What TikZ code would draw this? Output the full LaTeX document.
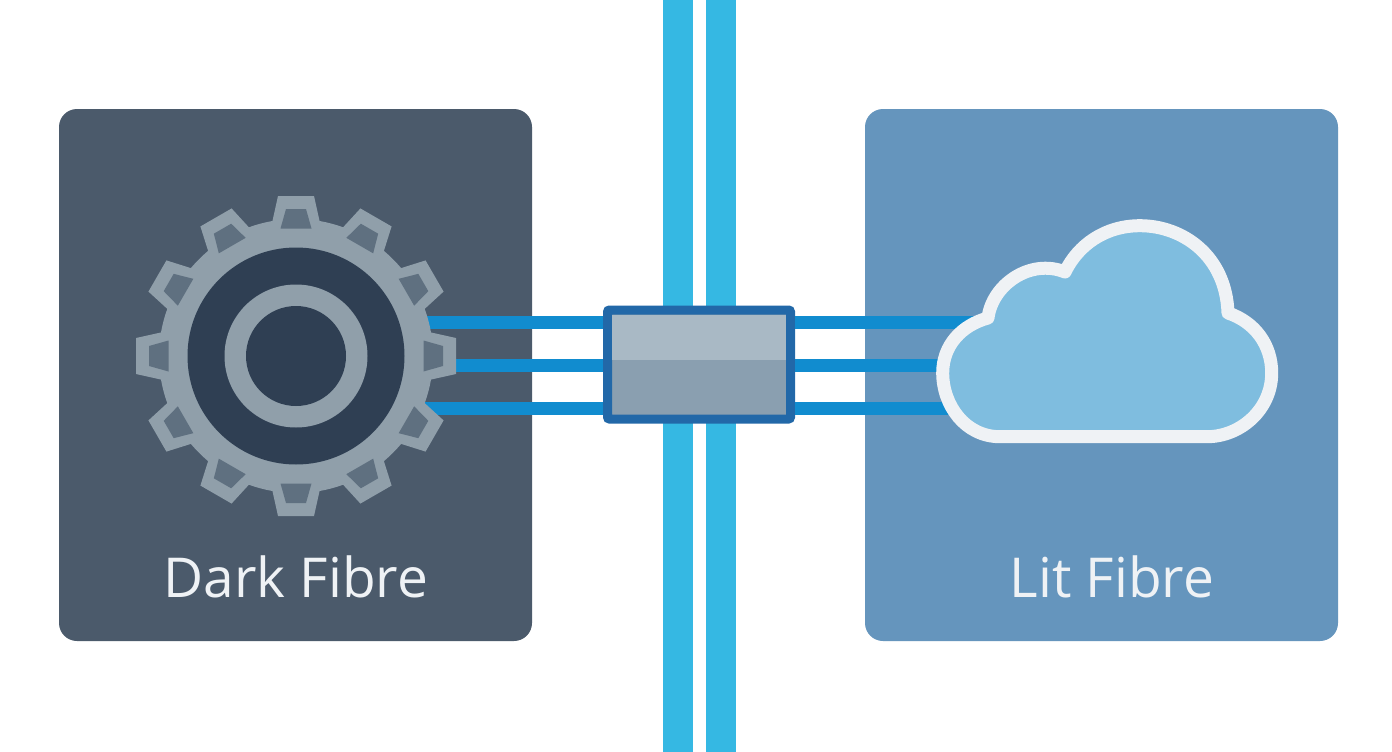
\documentclass[tikz,border=0pt]{standalone}
\usepackage{fontspec}
\setmainfont{Open Sans}
\usetikzlibrary{positioning}
\definecolor{darkpanel}{HTML}{4B5A6B}
\definecolor{litpanel}{HTML}{6595BD}
\definecolor{trunkblue}{HTML}{35B8E3}
\definecolor{fibreblue}{HTML}{118CCF}
\definecolor{spliceblue}{HTML}{2268A8}
\definecolor{spliceup}{HTML}{A9B9C5}
\definecolor{splicelow}{HTML}{8A9FB0}
\definecolor{gearmetal}{HTML}{909FAA}
\definecolor{gearhole}{HTML}{5F7080}
\definecolor{gearcore}{HTML}{2F3F53}
\definecolor{cloudfill}{HTML}{7FBDDF}
\definecolor{softwhite}{HTML}{EFF2F5}
\tikzset{x=1pt, y=-1pt,
    panel/.style={rectangle, rounded corners=18pt, minimum width=473pt, minimum height=532pt, inner sep=0pt},
    panellabel/.style={text=softwhite, font=\fontsize{55}{55}\selectfont},
    trunk/.style={trunkblue, line width=30pt},
    fibre/.style={fibreblue, line width=13pt},
    ring/.style={circle, inner sep=0pt}
}

\begin{document}
\begin{tikzpicture}
        \useasboundingbox (0,0) rectangle (1392,752);
        \fill[white] (0,0) rectangle (1392,752);
        \node[panel, fill=darkpanel] (dark) at (295.5,375) {};
        \node[panel, fill=litpanel] (lit) at (1101.5,375) {};
        % trunk ends
        \coordinate (trunkAtop) at (678,0);
        \coordinate (trunkAbot) at (678,752);
        \coordinate (trunkBtop) at (721,0);
        \coordinate (trunkBbot) at (721,752);
        \draw[trunk] (trunkAtop) -- (trunkAbot);
        \draw[trunk] (trunkBtop) -- (trunkBbot);
        % splice box
        \node[rectangle, minimum width=183pt, minimum height=109pt, inner sep=0pt, fill=splicelow, draw=spliceblue, line width=9pt, rounded corners=2pt] (splice) at (699,364.5) {};
        \node[rectangle, minimum width=174pt, minimum height=45pt, inner sep=0pt, fill=spliceup] (spliceup) at (699,337) {};
        % fibres
        \coordinate (gearA) at (425,322);
        \coordinate (gearB) at (440,365);
        \coordinate (gearC) at (425,408);
        \coordinate (cloudA) at (985,322);
        \coordinate (cloudB) at (960,365);
        \coordinate (cloudC) at (960,408);
        \foreach \row in {A,B,C} {
            \draw[fibre] (gear\row) -- (gear\row -| splice.west);
            \draw[fibre] (cloud\row) -- (cloud\row -| splice.east);
        }
        % gear
        \foreach \a in {0,30,...,330} {
            \begin{scope}[shift={(296,356)}, rotate=\a]
                \fill[gearmetal] (-24,-133) -- (-18,-160) -- (18,-160) -- (24,-133) -- cycle;
            \end{scope}
        }
        \node[ring, fill=gearmetal, minimum size=274pt] (gearbody) at (296,356) {};
        \foreach \a in {0,30,...,330} {
            \begin{scope}[shift={(296,356)}, rotate=\a]
                \fill[gearhole] (-10,-147) -- (10,-147) -- (15.5,-127.5) -- (-15.5,-127.5) -- cycle;
            \end{scope}
        }
        \node[ring, fill=gearcore, minimum size=217pt] (gearcore) at (296,356) {};
        \node[ring, fill=gearmetal, minimum size=143pt] (gearring) at (296,356) {};
        \node[ring, fill=gearcore, minimum size=100pt] (gearhub) at (296,356) {};
        % cloud
        \draw[softwhite, fill=cloudfill, line width=13pt, line join=round]
            (1000,436.7) .. controls (965,436.7) and (942.7,405) .. (942.7,373)
            .. controls (942.7,345) and (962,325) .. (988,318)
            .. controls (992,285) and (1030,258) .. (1065,272)
            .. controls (1078,245) and (1105,225.7) .. (1140,225.7)
            .. controls (1182,225.7) and (1226,255) .. (1228,313)
            .. controls (1255,322) and (1271.7,345) .. (1271.7,373)
            .. controls (1271.7,410) and (1240,436.7) .. (1207,436.7) -- cycle;
        % labels
        \node[panellabel] (darklabel) at (296,577) {Dark Fibre};
        \node[panellabel] (litlabel) at (1112,577) {Lit Fibre};
    \end{tikzpicture}
\end{document}
